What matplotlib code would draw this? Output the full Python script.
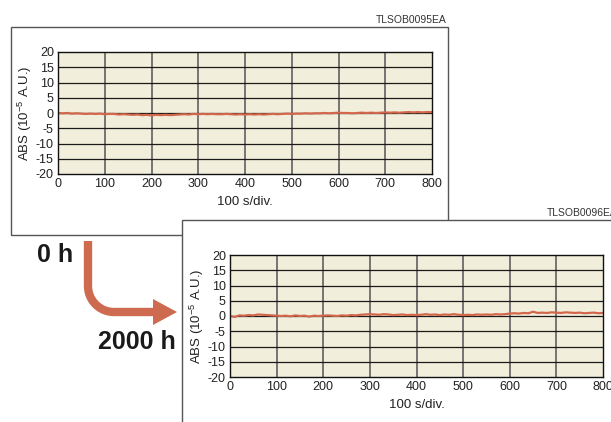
import numpy as np
import matplotlib.pyplot as plt
from matplotlib.patches import Rectangle, Polygon

plt.rcParams['font.family'] = ['Liberation Sans', 'DejaVu Sans']
plt.rcParams['axes.unicode_minus'] = False
plt.rcParams['mathtext.fontset'] = 'custom'
plt.rcParams['mathtext.rm'] = 'Liberation Sans'
plt.rcParams['mathtext.sf'] = 'Liberation Sans'

W, H = 611, 422

# sampling grid, one point every 10 s
time_s = list(range(0, 801, 10))

# absorbance, 10^-5 A.U.
abs_0h = [0.0, -0.1, 0.0, -0.2, -0.1, -0.2, -0.3, -0.2, -0.3, -0.2,
          -0.4, -0.3, -0.3, -0.5, -0.4, -0.5, -0.6, -0.5, -0.7, -0.6,
          -0.8, -0.6, -0.7, -0.6, -0.7, -0.6, -0.5, -0.4, -0.5, -0.3,
          -0.4, -0.3, -0.4, -0.3, -0.4, -0.4, -0.3, -0.4, -0.5, -0.4,
          -0.5, -0.4, -0.5, -0.4, -0.5, -0.4, -0.3, -0.4, -0.3, -0.2,
          -0.3, -0.2, -0.2, -0.1, -0.2, -0.1, -0.1, 0.0, -0.1, 0.0,
          0.1, 0.0, 0.0, -0.1, 0.0, 0.1, 0.0, 0.1, 0.0, 0.1,
          0.2, 0.1, 0.2, 0.1, 0.2, 0.3, 0.2, 0.3, 0.2, 0.3, 0.3]

abs_2000h = [0.0, -0.3, 0.2, 0.1, 0.3, 0.2, 0.5, 0.4, 0.3, 0.2,
             0.1, 0.0, 0.1, -0.1, 0.2, 0.0, 0.1, -0.2, 0.1, 0.0,
             0.1, 0.2, 0.1, 0.0, 0.2, 0.1, 0.3, 0.2, 0.4, 0.5,
             0.6, 0.5, 0.4, 0.6, 0.5, 0.3, 0.4, 0.5, 0.3, 0.4,
             0.3, 0.4, 0.6, 0.4, 0.5, 0.3, 0.5, 0.4, 0.6, 0.4,
             0.3, 0.4, 0.3, 0.5, 0.4, 0.5, 0.4, 0.6, 0.5, 0.6,
             0.8, 0.9, 0.8, 1.0, 0.9, 1.4, 1.0, 1.1, 1.0, 1.2,
             1.1, 1.0, 1.2, 1.1, 1.0, 1.1, 0.9, 1.0, 1.1, 0.9, 1.0]

x_ticks = [0, 100, 200, 300, 400, 500, 600, 700, 800]
y_ticks = [-20, -15, -10, -5, 0, 5, 10, 15, 20]

LINE_COLOR = '#d2674c'
ARROW_COLOR = '#cd6a50'
FACE = '#f2eedc'
TEXT = '#222222'


def px_rect(x0, y0, x1, y1):
    """pixel box (top-left origin) -> figure fraction rect"""
    return [x0 / W, 1 - y1 / H, (x1 - x0) / W, (y1 - y0) / H]


def draw_panel(fig, rect, values, zorder):
    ax = fig.add_axes(rect, zorder=zorder)
    ax.set_facecolor(FACE)
    ax.plot(time_s, values, color=LINE_COLOR, lw=1.6, solid_joinstyle='round')
    ax.set_xlim(0, 800)
    ax.set_ylim(-20, 20)
    ax.set_xticks(x_ticks)
    ax.set_yticks(y_ticks)
    for v in x_ticks[1:-1]:
        ax.axvline(v, color='#6b6b6b', lw=1.3, zorder=1)
    for v in y_ticks[1:-1]:
        ax.axhline(v, color='#1a1a1a', lw=0.9, zorder=1)
    ax.tick_params(length=0, pad=3, labelsize=9, colors=TEXT)
    for s in ax.spines.values():
        s.set_color('#111111')
        s.set_linewidth(1.0)
    ax.set_xlabel('100 s/div.', fontsize=9.5, color=TEXT, labelpad=4)
    ax.set_ylabel('ABS (10$^{\\mathsf{-5}}$ A.U.)', fontsize=9.5, color=TEXT, labelpad=1)
    return ax


fig = plt.figure(figsize=(W / 100, H / 100), dpi=100)

# frames behind each chart
box1 = Rectangle((11 / W, 1 - 235 / H), (448 - 11) / W, (235 - 27) / H,
                 transform=fig.transFigure, facecolor='white',
                 edgecolor='#555555', lw=1.0, zorder=0.5)
box2 = Rectangle((182 / W, 1 - 440 / H), (650 - 182) / W, (440 - 220) / H,
                 transform=fig.transFigure, facecolor='white',
                 edgecolor='#555555', lw=1.0, zorder=1.5)
fig.patches.extend([box1, box2])

draw_panel(fig, px_rect(58, 52, 432, 174), abs_0h, 1)
draw_panel(fig, px_rect(230, 255, 603, 377), abs_2000h, 2)

# overlay in pixel coords for the captions and the arrow
ov = fig.add_axes([0, 0, 1, 1], zorder=3)
ov.set_xlim(0, W)
ov.set_ylim(H, 0)
ov.axis('off')
ov.patch.set_alpha(0)

ov.text(447, 20, 'TLSOB0095EA', ha='right', va='center', fontsize=7.5, color='#333333')
ov.text(547, 213, 'TLSOB0096EA', ha='left', va='center', fontsize=7.5, color='#333333')
ov.text(37, 255, '0 h', ha='left', va='center', fontsize=18, fontweight='bold', color='#1a1a1a')
ov.text(176, 342, '2000 h', ha='right', va='center', fontsize=18, fontweight='bold', color='#1a1a1a')

# bent arrow: down, quarter turn, right
xs, ys, r = 88, 312, 26
t = np.linspace(np.pi, np.pi / 2, 30)
arc_x = xs + r + r * np.cos(t)
arc_y = ys - r + r * np.sin(t)
path_x = np.concatenate([[xs], arc_x, [155]])
path_y = np.concatenate([[241], arc_y, [ys]])
ov.plot(path_x, path_y, color=ARROW_COLOR, lw=6, solid_capstyle='butt')
ov.add_patch(Polygon([[153, 299], [177, ys], [153, 325]], closed=True,
                     facecolor=ARROW_COLOR, edgecolor='none'))

fig.savefig('out.png', dpi=100)
